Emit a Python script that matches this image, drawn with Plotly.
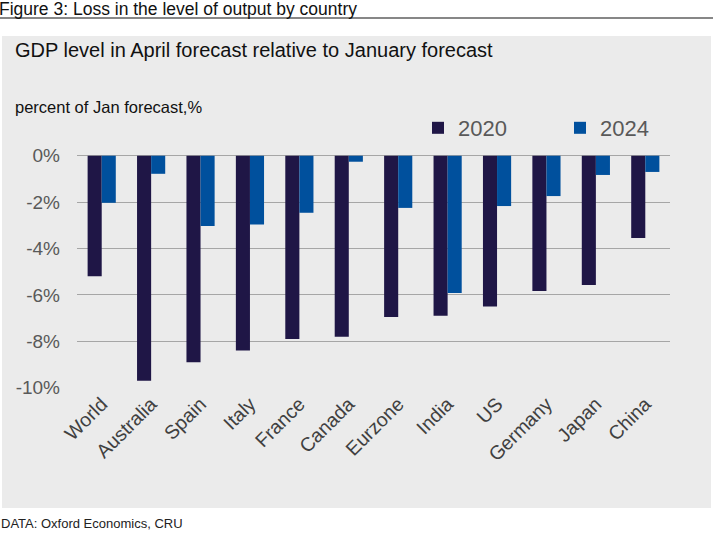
import plotly.graph_objects as go

categories = ["World", "Australia", "Spain", "Italy", "France", "Canada",
              "Eurzone", "India", "US", "Germany", "Japan", "China"]
values_2020 = [-5.2, -9.7, -8.9, -8.4, -7.9, -7.8, -6.95, -6.9, -6.5, -5.83, -5.57, -3.55]
values_2024 = [-2.03, -0.78, -3.03, -2.97, -2.46, -0.26, -2.25, -5.92, -2.17, -1.74, -0.83, -0.70]
y_ticks = [0, -2, -4, -6, -8, -10]
y_tick_labels = ["0%", "-2%", "-4%", "-6%", "-8%", "-10%"]

W, H = 713, 533
L, R, T, B = 77, 43, 150, 145
PW, PH = W - L - R, H - T - B


def px_x(px):
    return (px - L) / PW


def px_y(py):
    return (H - B - py) / PH


FONT = "Liberation Sans, Arial, sans-serif"
TXT = "#595959"

fig = go.Figure()
fig.add_trace(go.Bar(name="2020", x=categories, y=values_2020, marker_color="#1f1646",
                     marker_line_width=0))
fig.add_trace(go.Bar(name="2024", x=categories, y=values_2024, marker_color="#00509d",
                     marker_line_width=0))

# y range chosen so 0 sits at y=155.7px and -10 at y=387.7px
ppu = 23.2
top_val = (155.7 - T) / ppu
bot_val = -10 - ((H - B) - 387.7) / ppu

fig.update_layout(
    width=W, height=H, autosize=False,
    margin=dict(l=L, r=R, t=T, b=B, pad=0, autoexpand=False),
    paper_bgcolor="white", plot_bgcolor="rgba(0,0,0,0)",
    barmode="group", bargap=0.43, bargroupgap=0,
    font=dict(family=FONT, color=TXT),
    showlegend=True,
    legend=dict(orientation="h", x=px_x(418), y=px_y(107), xanchor="left", yanchor="top",
                font=dict(size=22, color=TXT, family=FONT), bgcolor="rgba(0,0,0,0)",
                entrywidth=97, entrywidthmode="pixels", itemsizing="constant",
                tracegroupgap=0),
    xaxis=dict(showgrid=False, showline=False, zeroline=False, tickangle=-45,
               tickfont=dict(size=19.5, color="#404040", family=FONT), ticks=""),
    yaxis=dict(range=[bot_val, top_val], tickvals=y_ticks, ticktext=y_tick_labels,
               showgrid=True, gridcolor="#a6a6a6", gridwidth=1, zeroline=False,
               showline=False, ticks="", ticklabelstandoff=16,
               tickfont=dict(size=19, color=TXT, family=FONT)),
    shapes=[
        dict(type="rect", xref="paper", yref="paper", x0=px_x(2), x1=px_x(711),
             y0=px_y(508), y1=px_y(36), fillcolor="#ebebeb", line_width=0, layer="below"),
        dict(type="line", xref="paper", yref="paper", x0=px_x(0), x1=px_x(713),
             y0=px_y(18), y1=px_y(18), line=dict(color="#111111", width=1.2)),
    ],
    annotations=[
        dict(text="Figure 3: Loss in the level of output by country", xref="paper", yref="paper",
             x=px_x(-3), y=px_y(9), xanchor="left", yanchor="middle", showarrow=False,
             font=dict(size=17.5, color="#111111", family=FONT)),
        dict(text="GDP level in April forecast relative to January forecast", xref="paper",
             yref="paper", x=px_x(12.5), y=px_y(50.5), xanchor="left", yanchor="middle",
             showarrow=False, font=dict(size=20, color="#111111", family=FONT)),
        dict(text="percent of Jan forecast,%", xref="paper", yref="paper",
             x=px_x(12.5), y=px_y(107), xanchor="left", yanchor="middle",
             showarrow=False, font=dict(size=16.5, color="#111111", family=FONT)),
        dict(text="DATA: Oxford Economics, CRU", xref="paper", yref="paper",
             x=px_x(-1), y=px_y(523), xanchor="left", yanchor="middle",
             showarrow=False, font=dict(size=13, color="#222222",
                                        family="Liberation Sans Narrow, Liberation Sans, Arial")),
    ],
)

fig.write_html("out.html", config={"displayModeBar": False},
               post_script="document.body.style.margin='0px';")
